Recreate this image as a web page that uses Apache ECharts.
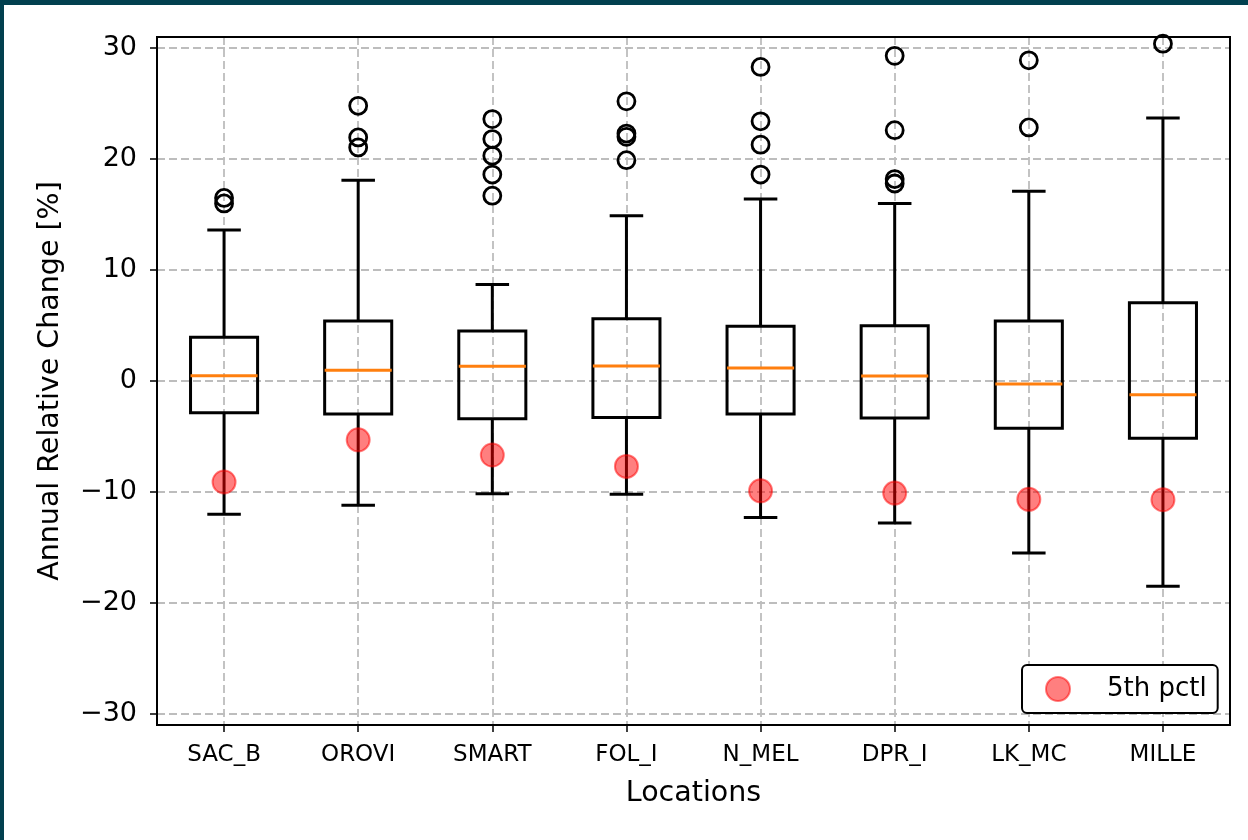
<!DOCTYPE html>
<html>
<head>
<meta charset="utf-8">
<title>Annual Relative Change by Location</title>
<script src="https://cdn.jsdelivr.net/npm/echarts@6/dist/echarts.min.js"></script>
<style>
  html, body { margin: 0; padding: 0; background: #02404f; width: 1248px; height: 840px; overflow: hidden; }
  #chart { position: absolute; left: 4px; top: 5px; width: 1244px; height: 835px; background: #ffffff; }
</style>
</head>
<body>
<div id="chart"></div>
<script>
// Locations along the x axis
const categories = ['SAC_B', 'OROVI', 'SMART', 'FOL_I', 'N_MEL', 'DPR_I', 'LK_MC', 'MILLE'];

// Box statistics per location (annual relative change, %)
const whiskerLow  = [-12.0, -11.2, -10.15, -10.2, -12.3, -12.8, -15.5, -18.5];
const quartile1   = [-2.85, -2.97, -3.4, -3.3, -2.97, -3.33, -4.26, -5.16];
const medians     = [0.48, 0.96, 1.32, 1.35, 1.17, 0.45, -0.27, -1.23];
const quartile3   = [3.95, 5.4, 4.5, 5.6, 4.93, 4.98, 5.4, 7.05];
const whiskerHigh = [13.6, 18.1, 8.7, 14.9, 16.4, 16.0, 17.1, 23.7];

// Points beyond the whiskers
const outliers = [
  [16.5, 16.0],
  [24.8, 21.95, 21.05],
  [23.6, 21.8, 20.3, 18.6, 16.7],
  [25.2, 22.3, 22.0, 19.9],
  [28.3, 23.4, 21.3, 18.6],
  [29.3, 22.6, 18.2, 17.8],
  [28.9, 22.85],
  [30.4]
];

// 5th percentile per location
const pctl5 = [-9.1, -5.3, -6.67, -7.7, -9.9, -10.1, -10.66, -10.7];

// Y axis range
const yMin = -31, yMax = 31;

const FONT = 'DejaVu Sans';
const GRID = { left: 153, top: 32, width: 1073, height: 688 };

const boxData = categories.map((c, i) => [i + 1, whiskerLow[i], quartile1[i], medians[i], quartile3[i], whiskerHigh[i]]);
const outlierData = [];
outliers.forEach((vals, i) => vals.forEach(v => outlierData.push([i + 1, v])));
const pctlData = pctl5.map((v, i) => [i + 1, v]);

const minus = v => (v < 0 ? '\u2212' + Math.abs(v) : String(v));

function renderBox(params, api) {
  const x = api.value(0);
  const lo = api.value(1), q1 = api.value(2), med = api.value(3), q3 = api.value(4), hi = api.value(5);
  const half = 0.25, capHalf = 0.125;
  const black = { stroke: '#000', lineWidth: 3, fill: null };
  const seg = (a, b, style) => ({
    type: 'line',
    shape: { x1: a[0], y1: a[1], x2: b[0], y2: b[1] },
    style: style
  });
  const pLo = api.coord([x, lo]), pHi = api.coord([x, hi]);
  const pQ1 = api.coord([x, q1]), pQ3 = api.coord([x, q3]);
  return {
    type: 'group',
    children: [
      seg(pQ1, pLo, black),
      seg(pQ3, pHi, black),
      seg(api.coord([x - capHalf, lo]), api.coord([x + capHalf, lo]), black),
      seg(api.coord([x - capHalf, hi]), api.coord([x + capHalf, hi]), black),
      {
        type: 'polygon',
        shape: { points: [
          api.coord([x - half, q1]), api.coord([x + half, q1]),
          api.coord([x + half, q3]), api.coord([x - half, q3])
        ] },
        style: { stroke: '#000', lineWidth: 3, fill: 'transparent' }
      },
      seg(api.coord([x - half, med]), api.coord([x + half, med]), { stroke: '#ff7f0e', lineWidth: 3 })
    ]
  };
}

const chart = echarts.init(document.getElementById('chart'), null, { renderer: 'canvas' });

const option = {
  animation: false,
  backgroundColor: '#ffffff',
  textStyle: { fontFamily: FONT, color: '#000' },
  grid: { left: GRID.left, top: GRID.top, width: GRID.width, height: GRID.height, containLabel: false },
  xAxis: {
    type: 'value',
    min: 0.5,
    max: 8.5,
    splitNumber: 8,
    name: 'Locations',
    nameLocation: 'middle',
    nameGap: 54,
    nameTextStyle: { fontFamily: FONT, fontSize: 28.5, color: '#000' },
    axisLine: { show: true, onZero: false, lineStyle: { color: '#000', width: 2 } },
    axisTick: { show: true, inside: false, length: 7, lineStyle: { color: '#000', width: 1.5 } },
    axisLabel: {
      show: true,
      margin: 19,
      fontFamily: FONT,
      fontSize: 23,
      color: '#000',
      showMinLabel: false,
      showMaxLabel: false,
      formatter: v => (Number.isInteger(v) && categories[v - 1]) ? categories[v - 1] : ''
    },
    splitLine: { show: true, lineStyle: { color: '#bdbdbd', width: 1.8, type: [8, 4] } }
  },
  yAxis: {
    type: 'value',
    min: yMin,
    max: yMax,
    splitNumber: 6,
    name: 'Annual Relative Change [%]',
    nameLocation: 'middle',
    nameGap: 92,
    nameTextStyle: { fontFamily: FONT, fontSize: 28.5, color: '#000' },
    axisLine: { show: true, onZero: false, lineStyle: { color: '#000', width: 2 } },
    axisTick: { show: true, inside: false, length: 7, lineStyle: { color: '#000', width: 1.5 } },
    axisLabel: {
      show: true,
      margin: 20,
      fontFamily: FONT,
      fontSize: 27,
      color: '#000',
      showMinLabel: false,
      showMaxLabel: false,
      formatter: v => (Number.isInteger(v) ? minus(v) : '')
    },
    splitLine: { show: true, lineStyle: { color: '#bdbdbd', width: 1.8, type: [8, 4] } }
  },
  legend: {
    data: ['5th pctl'],
    left: 1018,
    top: 660,
    orient: 'horizontal',
    icon: 'circle',
    itemWidth: 72,
    itemHeight: 24,
    padding: [11, 11, 11, 23],
    backgroundColor: '#ffffff',
    borderColor: '#000',
    borderWidth: 2,
    borderRadius: 5,
    textStyle: { fontFamily: FONT, fontSize: 26, color: '#000', padding: [0, 0, 0, 8] }
  },
  graphic: [{
    type: 'rect',
    z: 100,
    silent: true,
    shape: { x: GRID.left, y: GRID.top, width: GRID.width, height: GRID.height },
    style: { fill: null, stroke: '#000', lineWidth: 2 }
  }],
  series: [
    {
      name: 'box',
      type: 'custom',
      renderItem: renderBox,
      data: boxData,
      encode: { x: 0, y: [1, 2, 3, 4, 5] },
      z: 3
    },
    {
      name: 'outliers',
      type: 'scatter',
      data: outlierData,
      symbol: 'circle',
      symbolSize: 17,
      itemStyle: { color: 'transparent', borderColor: '#000', borderWidth: 2.8, opacity: 1 },
      z: 4
    },
    {
      name: '5th pctl',
      type: 'scatter',
      data: pctlData,
      symbol: 'circle',
      symbolSize: 23,
      itemStyle: { color: 'rgba(255,0,0,0.5)', borderColor: 'rgba(255,0,0,0.5)', borderWidth: 2, opacity: 1 },
      z: 5
    }
  ]
};

chart.setOption(option);
</script>
</body>
</html>
